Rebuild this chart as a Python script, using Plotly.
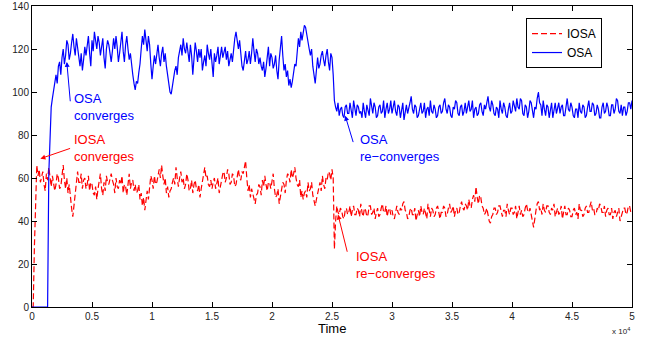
import plotly.graph_objects as go

STEP = 100  # time between samples

osa = [
    0, 0, 0, 0, 0, 0, 0, 0, 0, 0, 0, 0, 0, 0, 62, 84, 93, 97, 101, 106,
    108, 104, 112, 114, 108, 116, 120, 113, 117, 124, 122, 115, 118, 123, 127, 121, 117, 125, 121, 116,
    112, 118, 110, 115, 121, 117, 123, 126, 118, 112, 124, 119, 128, 124, 120, 126, 123, 117, 121, 125,
    116, 111, 120, 124, 122, 117, 114, 119, 125, 120, 126, 121, 114, 118, 124, 128, 119, 114, 122, 126,
    120, 115, 118, 112, 108, 104, 101, 105, 104, 109, 113, 120, 126, 122, 129, 124, 119, 126, 122, 113,
    106, 112, 117, 113, 119, 122, 116, 112, 118, 121, 114, 118, 112, 107, 103, 100, 99, 103, 106, 110,
    112, 108, 116, 120, 122, 117, 125, 120, 118, 123, 119, 114, 122, 117, 108, 115, 123, 119, 114, 120,
    116, 120, 110, 114, 117, 112, 122, 118, 115, 120, 112, 107, 118, 114, 117, 121, 113, 117, 121, 116,
    118, 121, 115, 119, 112, 116, 118, 114, 122, 125, 128, 123, 120, 124, 116, 112, 110, 114, 119, 113,
    115, 119, 113, 118, 125, 119, 114, 120, 118, 113, 116, 112, 110, 114, 107, 111, 117, 121, 112, 118,
    116, 111, 113, 117, 110, 106, 115, 121, 126, 117, 110, 113, 107, 110, 103, 106, 102, 105, 109, 113,
    112, 119, 125, 121, 128, 124, 127, 131, 130, 126, 124, 120, 117, 120, 112, 108, 104, 110, 116, 111,
    113, 117, 119, 115, 112, 117, 120, 114, 110, 118, 116, 108, 96, 93,
    91, 95, 89, 92, 93, 89, 88, 93, 94, 90, 90, 95, 92, 88, 96, 91, 89, 94, 93, 90,
    91, 88, 95, 91, 88, 94, 92, 89, 97, 93, 90, 95, 93, 88, 89, 93, 94, 90, 91, 96,
    88, 92, 95, 90, 92, 96, 90, 93, 96, 91, 89, 94, 93, 88, 91, 95, 87, 92, 94, 90,
    92, 95, 98, 92, 90, 94, 93, 88, 89, 92, 95, 90, 91, 95, 88, 92, 93, 89, 96, 91,
    90, 94, 92, 88, 89, 93, 94, 90, 91, 95, 97, 92, 90, 94, 93, 89, 88, 93, 92, 96,
    95, 90, 89, 93, 94, 89, 91, 95, 90, 93, 96, 91, 92, 96, 88, 92, 93, 89, 90, 94,
    95, 91, 89, 94, 92, 95, 98, 93, 91, 96, 94, 90, 89, 93, 92, 88, 96, 92, 90, 95,
    93, 89, 88, 92, 95, 90, 91, 96, 94, 91, 97, 93, 92, 97, 96, 90, 89, 94, 93, 88,
    91, 96, 95, 90, 88, 93, 92, 97, 100, 95, 94, 89, 96, 92, 89, 94, 93, 88, 91, 95,
    88, 93, 95, 90, 92, 95, 90, 93, 94, 89, 89, 94, 97, 92, 91, 95, 93, 89, 88, 92,
    92, 88, 95, 91, 90, 94, 93, 88, 89, 93, 96, 91, 91, 95, 94, 89, 90, 94, 92, 88,
    88, 93, 95, 90, 91, 95, 93, 89, 89, 94, 94, 90, 92, 97, 96, 91, 90, 94, 89, 93,
    93, 89, 91, 95, 95, 92, 96,
]

iosa = [
    0, 0, 28, 55, 66, 61, 64, 58, 60, 63, 57, 54, 62, 59, 65, 60, 56, 61, 58, 54,
    57, 62, 60, 55, 56, 61, 66, 59, 55, 60, 53, 57, 50, 46, 42, 47, 51, 57, 63, 58,
    58, 62, 55, 59, 60, 55, 57, 61, 54, 58, 57, 53, 52, 56, 50, 55, 59, 62, 55, 52,
    58, 54, 61, 58, 57, 60, 62, 59, 57, 53, 60, 56, 55, 59, 57, 61, 53, 57, 56, 52,
    59, 62, 55, 58, 59, 54, 57, 53, 54, 57, 50, 53, 47, 51, 45, 49, 54, 50, 57, 61,
    59, 55, 61, 57, 58, 62, 64, 60, 66, 61, 57, 60, 53, 56, 51, 54, 55, 58, 60, 57,
    65, 60, 56, 60, 63, 58, 60, 55, 57, 62, 59, 54, 55, 59, 53, 57, 59, 55, 54, 57,
    51, 55, 59, 62, 65, 60, 61, 57, 56, 59, 55, 58, 60, 55, 57, 60, 53, 56, 59, 62,
    63, 58, 60, 64, 62, 57, 58, 62, 61, 56, 57, 61, 64, 60, 59, 63, 62, 65, 68, 60,
    54, 57, 51, 55, 53, 50, 48, 52, 53, 57, 56, 52, 59, 56, 61, 57, 54, 58, 58, 55,
    59, 62, 55, 51, 52, 55, 48, 51, 54, 58, 57, 53, 59, 62, 61, 58, 64, 60, 62, 65,
    60, 57, 56, 59, 51, 54, 50, 53, 54, 51, 58, 54, 55, 58, 52, 49, 47, 50, 53, 56,
    58, 54, 61, 57, 55, 60, 59, 63, 62, 59, 64, 60, 27, 40,
    47, 44, 43, 46, 45, 42, 41, 45, 46, 43, 44, 47, 42, 45, 47, 43, 43, 46, 45, 42,
    48, 44, 42, 46, 45, 42, 43, 47, 47, 43, 44, 46, 41, 44, 46, 42, 43, 46, 48, 44,
    44, 47, 42, 45, 46, 43, 45, 42, 41, 44, 47, 44, 43, 46, 45, 48, 49, 45, 44, 41,
    42, 45, 46, 43, 43, 46, 40, 43, 45, 42, 47, 44, 43, 46, 44, 41, 48, 45, 42, 46,
    45, 42, 43, 46, 47, 44, 41, 44, 44, 47, 46, 42, 43, 46, 48, 44, 45, 47, 42, 45,
    46, 43, 44, 47, 49, 46, 45, 48, 47, 45, 50, 47, 46, 50, 52, 49, 56, 51, 48, 52,
    51, 47, 46, 43, 44, 46, 42, 40, 39, 42, 43, 46, 46, 43, 44, 47, 47, 44, 42, 45,
    45, 42, 48, 45, 43, 46, 46, 43, 44, 47, 41, 44, 47, 43, 45, 42, 43, 46, 48, 45,
    44, 46, 42, 40, 37, 42, 45, 48, 49, 45, 46, 43, 48, 45, 44, 47, 47, 44, 43, 46,
    45, 48, 42, 44, 46, 43, 44, 47, 41, 44, 47, 43, 43, 46, 45, 42, 42, 45, 46, 43,
    44, 41, 48, 45, 45, 42, 43, 46, 47, 44, 44, 47, 49, 45, 46, 43, 43, 46, 45, 48,
    47, 44, 44, 47, 42, 45, 46, 43, 43, 46, 41, 44, 45, 42, 44, 46, 40, 42, 43, 46,
    46, 43, 44, 47, 47, 44, 45,
]

t_osa = [STEP * i for i in range(len(osa))]
t_iosa = [STEP * i for i in range(len(iosa))]

x_tickvals = [0, 5000, 10000, 15000, 20000, 25000, 30000, 35000, 40000, 45000, 50000]
x_ticktext = ["0", "0.5", "1", "1.5", "2", "2.5", "3", "3.5", "4", "4.5", "5"]
y_tickvals = [0, 20, 40, 60, 80, 100, 120, 140]

BLUE = "#0000FF"
RED = "#FF0000"
FONT = "Liberation Sans, Arial, Helvetica, sans-serif"

fig = go.Figure()
fig.add_trace(go.Scatter(x=t_iosa, y=iosa, mode="lines", name="IOSA",
                         line=dict(color=RED, width=1.2, dash="6px,3px")))
fig.add_trace(go.Scatter(x=t_osa, y=osa, mode="lines", name="OSA",
                         line=dict(color=BLUE, width=1.2)))

axis_common = dict(showgrid=False, zeroline=False, showline=True, linecolor="black",
                   linewidth=1, mirror="allticks", ticks="inside", ticklen=5,
                   tickcolor="black", automargin=False,
                   tickfont=dict(size=10, color="#222222", family=FONT))

fig.update_xaxes(range=[0, 50000], tickvals=x_tickvals, ticktext=x_ticktext, **axis_common)
fig.update_yaxes(range=[0, 140], tickvals=y_tickvals, **axis_common)

anns = []
# x-axis title and exponent
anns.append(dict(text="Time", x=0.5, y=-0.07, xref="paper", yref="paper",
                 xanchor="center", yanchor="middle", showarrow=False,
                 font=dict(size=13, color="black", family=FONT)))
anns.append(dict(text="x 10<sup>4</sup>", x=1.0, y=-0.08, xref="paper", yref="paper",
                 xanchor="right", yanchor="middle", showarrow=False,
                 font=dict(size=8, color="#222222", family=FONT)))

# text labels
labels = [
    ("OSA<br>converges", 3300, 93, BLUE),
    ("IOSA<br>converges", 3300, 74, RED),
    ("OSA<br>re−converges", 27150, 74, BLUE),
    ("IOSA<br>re−converges", 26800, 19.5, RED),
]
for txt, x, y, col in labels:
    anns.append(dict(text=txt, x=x, y=y, xref="x", yref="y", xanchor="left",
                     yanchor="middle", align="left", showarrow=False,
                     font=dict(size=13, color=col, family=FONT)))

# arrows (tip, tail) in data coordinates
arrows = [
    ((2900, 114), (3200, 95), BLUE),
    ((700, 69), (3300, 74), RED),
    ((26100, 89), (26800, 76), BLUE),
    ((25500, 43), (26300, 25), RED),
]
for (x, y), (ax, ay), col in arrows:
    anns.append(dict(text="", x=x, y=y, ax=ax, ay=ay, xref="x", yref="y",
                     axref="x", ayref="y", showarrow=True, arrowhead=2,
                     arrowsize=1, arrowwidth=1, arrowcolor=col))

fig.update_layout(
    width=646, height=339,
    margin=dict(l=32, r=14, t=6, b=32),
    plot_bgcolor="white", paper_bgcolor="white",
    font=dict(family=FONT),
    annotations=anns,
    legend=dict(x=0.95, y=0.96, xanchor="right", yanchor="top",
                bgcolor="white", bordercolor="black", borderwidth=1,
                font=dict(size=12, color="black", family=FONT),
                tracegroupgap=0, itemwidth=30),
)

fig.write_html("out.html",
               config={"displayModeBar": False},
               post_script="document.body.style.margin='0px';"
                           "document.body.style.overflow='hidden';")
